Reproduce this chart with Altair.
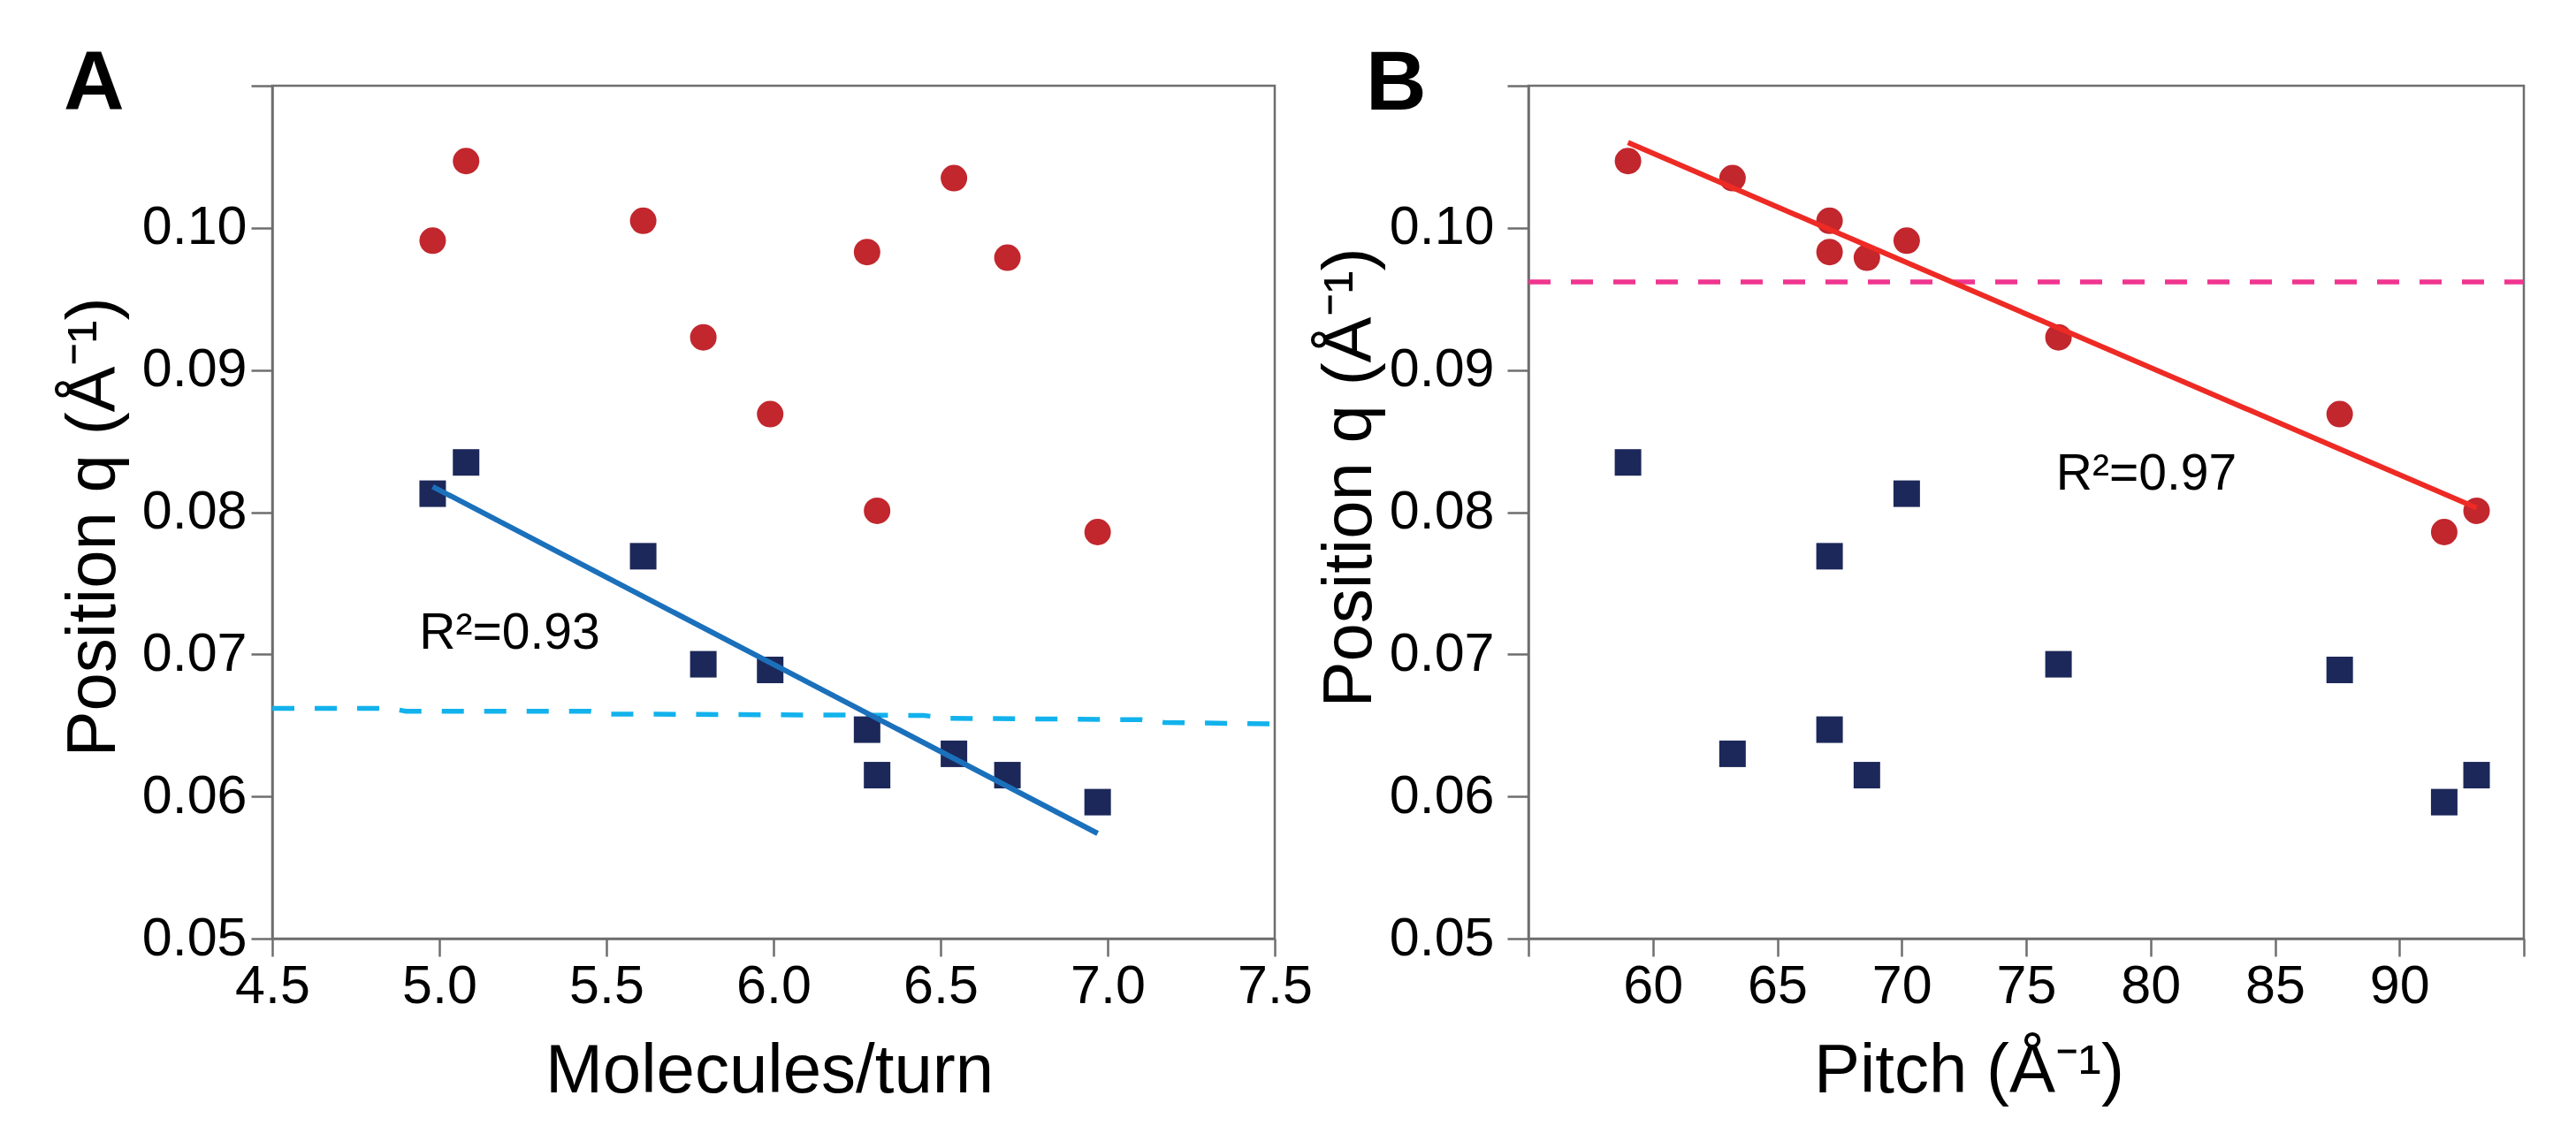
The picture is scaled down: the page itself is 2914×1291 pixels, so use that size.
import altair as alt
import pandas as pd

# values, one entry per helical structure
mol_turn = [4.98, 5.08, 5.61, 5.79, 5.99, 6.28, 6.31, 6.54, 6.70, 6.97]
pitch = [70.2, 59.0, 67.1, 76.3, 87.6, 67.1, 93.1, 63.2, 68.6, 91.8]
q_red = [0.0991, 0.1047, 0.1005, 0.0923, 0.0869, 0.0983, 0.0801, 0.1035, 0.0979, 0.0786]
q_blue = [0.0813, 0.0835, 0.0769, 0.0693, 0.0689, 0.0647, 0.0615, 0.0630, 0.0615, 0.0596]

# linear fits
fit_a_x = [4.98, 6.97]
fit_a_q = [0.0818, 0.0574]
fit_b_x = [59.0, 93.1]
fit_b_q = [0.1060, 0.0803]

# dashed reference lines
ref_a_x = [4.5, 4.85, 4.9, 5.45, 5.5, 6.45, 6.52, 7.1, 7.17, 7.5]
ref_a_q = [0.0662, 0.0662, 0.0660, 0.0660, 0.0658, 0.0657, 0.0655, 0.0654, 0.0652, 0.0651]
ref_b_x = [55, 95]
ref_b_q = [0.0962, 0.0962]

# annotations
r2_text = ["R²=0.93", "R²=0.97"]
r2_x = [4.94, 76.2]
r2_q = [0.0704, 0.0816]

y_ticks = [0.05, 0.06, 0.07, 0.08, 0.09, 0.10, 0.11]
x_ticks_a = [4.5, 5.0, 5.5, 6.0, 6.5, 7.0, 7.5]
x_ticks_b = [55, 60, 65, 70, 75, 80, 85, 90, 95]

RED = "#C1272D"
RED_FIT = "#EE2A24"
NAVY = "#1C2859"
BLUE_FIT = "#1B70BB"
CYAN = "#12B2EC"
PINK = "#F0358F"
GRAY = "#6E6E6E"
FONT = "Liberation Sans"

Y_TITLE = "Position q (Å⁻¹)"


def frame(xs, qs):
    return pd.DataFrame({"x": xs, "q": qs})


def panel(x_vals, fit_x, fit_q, ref_x, ref_q, ref_color, fit_color,
          x_scale, x_axis, y_axis, x_title, r2_i, letter, letter_dx, w):
    xe = alt.X("x:Q", scale=x_scale, axis=x_axis, title=x_title)
    ye = alt.Y("q:Q", scale=alt.Scale(domain=[0.05, 0.11], nice=False, zero=False),
               axis=y_axis, title=Y_TITLE)

    dashed = alt.Chart(frame(ref_x, ref_q)).mark_line(
        color=ref_color, strokeWidth=5.5, strokeDash=[25, 23]
    ).encode(xe, ye)
    red = alt.Chart(frame(x_vals, q_red)).mark_point(
        shape="circle", filled=True, size=900, opacity=1, color=RED
    ).encode(xe, ye)
    blue = alt.Chart(frame(x_vals, q_blue)).mark_point(
        shape="square", filled=True, size=900, opacity=1, color=NAVY
    ).encode(xe, ye)
    fit = alt.Chart(frame(fit_x, fit_q)).mark_line(
        color=fit_color, strokeWidth=6
    ).encode(xe, ye)
    r2 = alt.Chart(pd.DataFrame({"x": [r2_x[r2_i]], "q": [r2_q[r2_i]], "t": [r2_text[r2_i]]})).mark_text(
        align="left", baseline="alphabetic", font=FONT, fontSize=57, color="black"
    ).encode(xe, ye, text="t:N")
    tag = alt.Chart(pd.DataFrame({"t": [letter]})).mark_text(
        align="left", baseline="alphabetic", font=FONT, fontSize=95,
        fontWeight="bold", color="black"
    ).encode(x=alt.value(letter_dx), y=alt.value(27), text="t:N")

    return alt.layer(dashed, red, blue, fit, r2, tag).properties(width=w, height=965)


def y_axis(label_pad, title_y):
    return alt.Axis(
        values=y_ticks,
        labelExpr="datum.value > 0.105 ? '' : format(datum.value, '.2f')",
        tickSize=24, labelPadding=label_pad, grid=False,
        titleX=-179, titleY=title_y, titleBaseline="alphabetic", titleAngle=270,
    )


chart_a = panel(
    mol_turn, fit_a_x, fit_a_q, ref_a_x, ref_a_q, CYAN, BLUE_FIT,
    alt.Scale(domain=[4.5, 7.5], nice=False, zero=False),
    alt.Axis(values=x_ticks_a, format=".1f", labelFlush=False, tickSize=20,
             labelPadding=4, grid=False, titleX=562, titleY=173,
             titleBaseline="alphabetic"),
    y_axis(5, 499), "Molecules/turn", 0, "A", -236, 1134,
)

chart_b = panel(
    pitch, fit_b_x, fit_b_q, ref_b_x, ref_b_q, PINK, RED_FIT,
    alt.Scale(domain=[55, 95], nice=False, zero=False),
    alt.Axis(values=x_ticks_b,
             labelExpr="datum.value == 55 || datum.value == 95 ? '' : datum.label",
             labelFlush=False, tickSize=20, labelPadding=4, grid=False,
             titleX=498, titleY=173, titleBaseline="alphabetic"),
    y_axis(15, 443), "Pitch (Å⁻¹)", 1, "B", -184, 1126,
)

chart = alt.hconcat(chart_a, chart_b, spacing=287, bounds="flush").properties(
    padding={"left": 57, "top": 38, "right": 10, "bottom": 10}
).configure_axis(
    domainColor=GRAY, domainWidth=2.5, tickColor=GRAY, tickWidth=2.5,
    labelFont=FONT, labelFontSize=61, labelColor="black", labelOverlap=False,
    titleFont=FONT, titleFontSize=78, titleFontWeight="normal", titleColor="black",
).configure_view(
    stroke=GRAY, strokeWidth=2.5
)

chart.save("out.html", embed_options={"renderer": "svg", "actions": False})
